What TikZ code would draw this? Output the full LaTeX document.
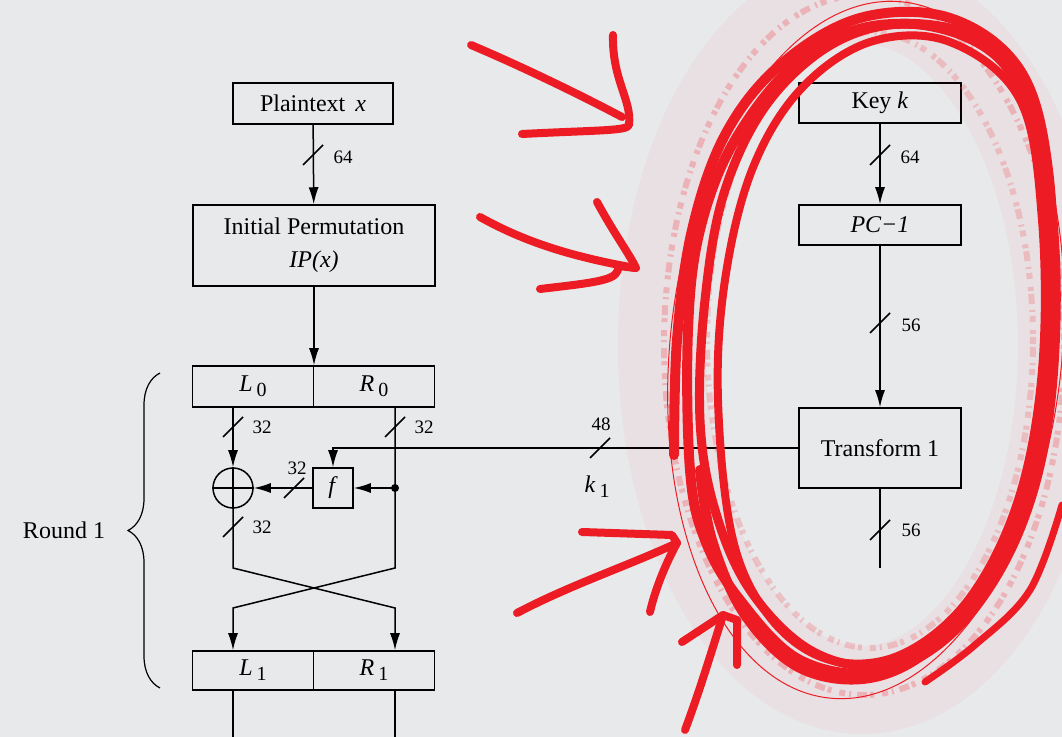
\documentclass[tikz,border=0pt]{standalone}
\usepackage{fontspec}
\setmainfont{Liberation Serif}
\usetikzlibrary{arrows.meta,decorations.pathreplacing}
\definecolor{paper}{RGB}{232,233,235}
\definecolor{ink}{RGB}{237,28,36}
\newcommand{\lrsub}[2]{\textit{#1}\,\raisebox{-.45ex}{\fontsize{10}{10}\selectfont #2}}
\tikzset{
  box/.style={draw, line width=0.75pt, inner sep=0pt, font=\fontsize{12}{16.5}\selectfont},
  wire/.style={line width=0.75pt},
  tip/.style={-{Latex[length=8.5pt,width=5pt]}},
  lbl/.style={font=\fontsize{9.5}{11}\selectfont, inner sep=0pt},
  scrawl/.style={draw=ink, line width=4pt, line cap=round, line join=round},
  spray/.style={draw=ink!70, opacity=.35, line width=3pt, dash pattern=on 2pt off 1.5pt on 5pt off 3pt on 1pt off 2pt on 3pt off 4pt},
  buscut/.pic={\draw[wire] (-10,10) -- (10,-10);}
}

\begin{document}
\begin{tikzpicture}[x=0.5pt,y=-0.5pt]
	\fill[paper] (0,0) rectangle (1062,737);
	\useasboundingbox (0,0) rectangle (1062,737);
	\clip (0,0) rectangle (1062,737);
	% data path
	\node[box, minimum width=80pt, minimum height=20.5pt] (pt) at (313,103.5) {Plaintext\hspace{5pt}\textit{x}};
	\node[box, minimum width=121pt, minimum height=40.5pt, align=center] (ip) at (314,245.5) {Initial Permutation\\\textit{IP(x)}};
	\node[box, minimum width=60.5pt, minimum height=20.5pt] (L0) at (253,386.5) {\lrsub{L}{0}};
	\node[box, minimum width=60.5pt, minimum height=20.5pt] (R0) at (374,386.5) {\lrsub{R}{0}};
	\node[box, minimum width=60.5pt, minimum height=19.5pt] (L1) at (253,670.5) {\lrsub{L}{1}};
	\node[box, minimum width=60.5pt, minimum height=19.5pt] (R1) at (374,670.5) {\lrsub{R}{1}};
	\node[circle, draw, wire, minimum size=20pt, inner sep=0pt] (xor) at (233,488) {};
	\draw[wire] (xor.north) -- (xor.south) (xor.west) -- (xor.east);
	\node[box, minimum size=20pt] (f) at (333,488) {\textit{f}};
	\coordinate (dot) at (395,488);
	\coordinate (lb) at (233,568);
	\coordinate (rb) at (395,568);
	\coordinate (lt) at (233,608);
	\coordinate (rt) at (395,608);
	\coordinate (lend) at (233,737);
	\coordinate (rend) at (395,737);
	\draw[wire,tip] (pt) -- (ip);
	\draw[wire,tip] (ip.south) -- (ip.south |- L0.north);
	\draw[wire,tip] (L0.south -| xor) -- (xor.north);
	\draw[wire,tip] (R0.south -| dot) -- (rb) -- (lt) -- (L1.north -| lt);
	\draw[wire,tip] (xor.south) -- (lb) -- (rt) -- (R1.north -| rt);
	\draw[wire,tip] (dot) -- (f.east);
	\draw[wire,tip] (f.west) -- (xor.east);
	\fill (dot) circle (2pt);
	\draw[wire] (L1.south -| lt) -- (lend);
	\draw[wire] (R1.south -| rt) -- (rend);
	% key schedule
	\node[box, minimum width=81pt, minimum height=20pt] (key) at (880,103) {Key \textit{k}};
	\node[box, minimum width=81pt, minimum height=20pt] (pc1) at (880,225) {\textit{PC−1}};
	\node[box, minimum width=81pt, minimum height=40pt] (tr) at (880,448) {Transform 1};
	\coordinate (kend) at (880,568);
	\draw[wire,tip] (key) -- (pc1);
	\draw[wire,tip] (pc1) -- (tr);
	\draw[wire] (tr) -- (kend);
	\draw[wire,tip] (tr.west) -- (tr.west -| f) -- (f.north);
	% bus widths
	\pic at (313,155) {buscut};
	\pic at (233,427) {buscut};
	\pic at (395,427) {buscut};
	\pic at (294,488) {buscut};
	\pic at (233,527) {buscut};
	\pic at (600,448) {buscut};
	\pic at (880,155) {buscut};
	\pic at (880,323) {buscut};
	\pic at (880,530) {buscut};
	\node[lbl] (w1) at (343,157) {64};
	\node[lbl] (w2) at (262,427) {32};
	\node[lbl] (w3) at (424,427) {32};
	\node[lbl] (w4) at (297,468) {32};
	\node[lbl] (w5) at (262,527) {32};
	\node[lbl] (w6) at (601,424) {48};
	\node[font=\fontsize{12}{14}\selectfont, inner sep=0pt] (k1) at (597,487) {\lrsub{k}{1}};
	\node[lbl] (w7) at (910,157) {64};
	\node[lbl] (w8) at (911,325) {56};
	\node[lbl] (w9) at (911,530) {56};
	% round brace
	\draw[line width=0.6pt, decorate, decoration={brace, amplitude=16pt}] (160,688) -- (160,373);
	\node[font=\fontsize{12}{14}\selectfont] (rnd) at (64,530) {Round 1};
	% red marks
	\draw[ink, opacity=.04, line width=44pt] (862,345) ellipse [x radius=200, y radius=345];
	\draw[spray] (864,345) ellipse [x radius=200, y radius=350];
	\draw[spray, opacity=.28] (870,340) ellipse [x radius=163, y radius=308];
	\draw[ink, line width=0.5pt, rotate around={-6:(866,350)}] (866,350) ellipse [x radius=196, y radius=350];
	\draw[scrawl, line width=5pt] plot[smooth, tension=.6] coordinates {(674,455) (677,340) (692,230) (725,135) (780,65) (860,18) (950,18) (1020,70) (1048,170) (1052,320) (1035,460) (995,570) (935,645) (870,678) (800,668) (745,615) (712,540) (700,470)};
	\draw[scrawl, line width=4.5pt] plot[smooth cycle, tension=.6] coordinates {(700,420) (705,300) (725,190) (770,100) (840,40) (920,25) (1000,60) (1040,150) (1050,300) (1040,430) (1005,550) (950,630) (880,665) (810,650) (750,590) (715,510)};
	\draw[scrawl, line width=4pt] plot[smooth cycle, tension=.6] coordinates {(718,400) (725,280) (752,170) (800,90) (870,42) (950,42) (1020,100) (1042,220) (1042,370) (1018,500) (968,600) (900,655) (830,660) (772,620) (733,540)};
	\draw[scrawl, line width=5pt] plot[smooth cycle, tension=.6] coordinates {(690,470) (688,330) (700,230) (735,140) (800,60) (880,25) (980,40) (1035,120) (1055,260) (1048,420) (1015,540) (955,630) (880,672) (800,660) (740,600) (705,540)};
	\draw[scrawl, line width=3.5pt] plot[smooth, tension=.6] coordinates {(1062,505) (1030,590) (975,645) (925,682)};
	% arrows
	\draw[scrawl] (471,45) .. controls (530,70) and (590,100) .. (622,117);
	\draw[scrawl] (613,35) .. controls (612,80) and (632,100) .. (629,125) .. controls (627,131) and (600,130) .. (522,134);
	\draw[scrawl] (480,217) .. controls (530,245) and (580,258) .. (635,268);
	\draw[scrawl] (597,202) .. controls (615,235) and (630,255) .. (636,268) -- (618,266) .. controls (620,280) and (600,282) .. (540,289);
	\draw[scrawl] (582,532) -- (672,535) -- (677,543);
	\draw[scrawl] (517,613) .. controls (570,585) and (630,565) .. (677,543) .. controls (665,565) and (655,590) .. (650,612);
	\draw[scrawl] (682,642) -- (723,615) -- (737,620) -- (737,665);
	\draw[scrawl] (685,730) .. controls (700,690) and (712,650) .. (723,615);
\end{tikzpicture}
\end{document}
